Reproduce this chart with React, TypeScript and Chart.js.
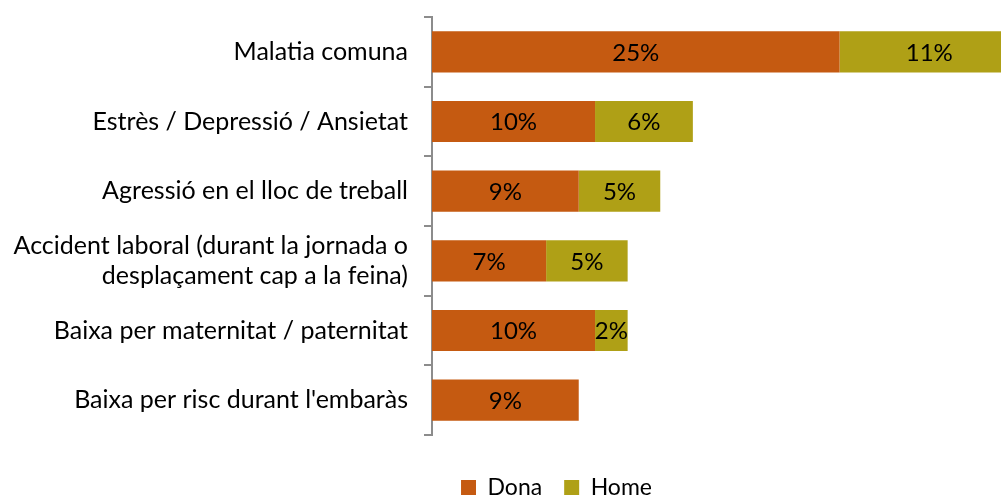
import React, { useEffect, useRef } from "react";
import { Chart, registerables } from "chart.js";

Chart.register(...registerables);

const categories: (string | string[])[] = [
  "Malatia comuna",
  "Estrès / Depressió / Ansietat",
  "Agressió en el lloc de treball",
  ["Accident laboral (durant la jornada o", "desplaçament cap a la feina)"],
  "Baixa per maternitat / paternitat",
  "Baixa per risc durant l'embaràs",
];
const donaValues = [25, 10, 9, 7, 10, 9];
const homeValues: (number | null)[] = [11, 6, 5, 5, 2, null];
const seriesNames = ["Dona", "Home"];
const xMax = 34.9;

const FONT = "Lato, 'Open Sans', sans-serif";

const labelPlugin = {
  id: "barLabels",
  afterDatasetsDraw(chart: any) {
    const ctx = chart.ctx;
    ctx.save();
    ctx.font = `24px ${FONT}`;
    ctx.fillStyle = "#000000";
    ctx.textAlign = "center";
    ctx.textBaseline = "middle";
    chart.data.datasets.forEach((ds: any, di: number) => {
      const meta = chart.getDatasetMeta(di);
      meta.data.forEach((el: any, i: number) => {
        const v = ds.data[i];
        if (v == null) return;
        const cx = (el.x + el.base) / 2;
        ctx.fillText(`${v}%`, cx, el.y + 1);
      });
    });
    ctx.restore();
  },
};

const legendShiftPlugin = {
  id: "legendShift",
  afterLayout(chart: any) {
    const lg = chart.legend;
    if (lg) {
      lg.left += 56;
      lg.right += 56;
    }
  },
};

export default function App() {
  const ref = useRef<HTMLCanvasElement>(null);
  useEffect(() => {
    document.body.style.margin = "0";
    const chart = new Chart(ref.current!, {
      type: "bar",
      data: {
        labels: categories,
        datasets: [
          {
            label: seriesNames[0],
            data: donaValues,
            backgroundColor: "#C55A11",
            borderWidth: 0,
            categoryPercentage: 1,
            barPercentage: 0.59,
          },
          {
            label: seriesNames[1],
            data: homeValues,
            backgroundColor: "#AFA016",
            borderWidth: 0,
            categoryPercentage: 1,
            barPercentage: 0.59,
          },
        ],
      },
      options: {
        indexAxis: "y",
        responsive: false,
        animation: false,
        layout: { padding: { top: 17, right: 0, left: 0, bottom: -11 } },
        scales: {
          x: {
            stacked: true,
            display: false,
            min: 0,
            max: xMax,
          },
          y: {
            stacked: true,
            afterFit(scale: any) {
              scale.width = 432;
              scale.paddingTop = 0;
              scale.paddingBottom = 0;
            },
            border: { display: true, color: "#8c8c8c", width: 2 },
            grid: {
              display: true,
              drawOnChartArea: false,
              drawTicks: true,
              tickLength: 8,
              color: "#8c8c8c",
              lineWidth: 2,
              offset: true,
            },
            ticks: {
              color: "#000000",
              padding: 16,
              font: { size: 25, family: FONT, lineHeight: 1.2 },
            },
          },
        },
        plugins: {
          legend: {
            position: "bottom",
            title: {
              display: true,
              text: " ",
              font: { size: 1, lineHeight: 1 },
              padding: 9,
            },
            labels: {
              boxWidth: 15,
              boxHeight: 15,
              color: "#000000",
              font: { size: 23, family: FONT },
              padding: 22,
            },
          },
          tooltip: { enabled: false },
        },
      },
      plugins: [labelPlugin, legendShiftPlugin],
    });
    return () => chart.destroy();
  }, []);
  return (
    <div style={{ position: "absolute", left: 0, top: 0, width: 1001, height: 498 }}>
      <canvas ref={ref} width={1001} height={498} />
    </div>
  );
}
